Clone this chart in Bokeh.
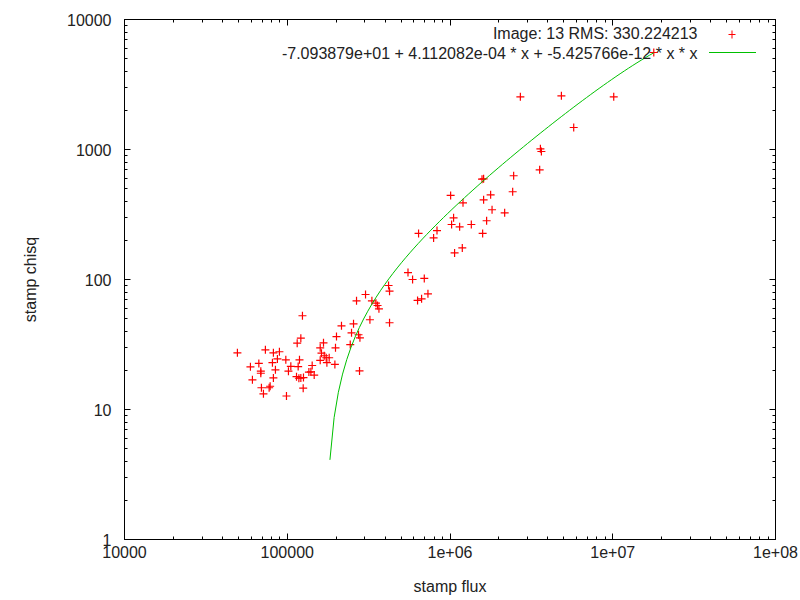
import numpy as np
from bokeh.plotting import figure
from bokeh.models import (LogAxis, FixedTicker, Label, BoxAnnotation, CustomJSTickFormatter)
from bokeh.embed import file_html
from bokeh.resources import INLINE

# ---- data ----
flux = [49400, 124000, 73400, 82200, 89500, 59400, 66900, 68800, 68800, 61100,
        69400, 71400, 77400, 78500, 82200, 84600, 81100, 87000, 98000, 105200,
        101700, 98900, 118900, 116700, 114000, 117900, 121200, 125800, 125300, 115100,
        121200, 142300, 139700, 146400, 135800, 167000, 159400, 162300, 168700, 173500,
        181000, 175200, 159400, 196200, 197900, 200700, 215400, 255400, 248300, 274100,
        279600, 243800, 278000, 322100, 425100, 302700, 266500, 331200, 350700, 358700,
        365900, 419200, 425100, 1573000, 1609000, 2461000, 3556000, 2427000, 1009000, 1202000,
        1609000, 1777000, 1813000, 2167000, 1679000, 1052000, 1023000, 1146000, 1352000, 1587000,
        832000, 641000, 793000, 1190000, 1067000, 552000, 589000, 695000, 732000, 632000,
        669000, 2706000, 4836000, 10140000, 5756000, 3593000, 3644000, 17870000]
chisq = [27.3, 52.6, 28.8, 27.3, 27.8, 21.3, 22.6, 19.7, 19.0, 16.9,
         14.7, 13.2, 14.7, 15.1, 17.5, 20.2, 22.9, 24.5, 24.1, 21.5,
         19.7, 12.7, 24.1, 21.4, 17.9, 17.4, 17.5, 17.6, 14.6, 32.4,
         35.4, 21.8, 19.5, 18.4, 19.4, 32.6, 29.8, 27.1, 25.9, 25.0,
         25.0, 22.9, 23.9, 22.2, 29.8, 36.4, 44.0, 45.6, 38.9, 37.6,
         35.6, 31.6, 19.8, 49.0, 46.5, 76.7, 68.6, 68.6, 65.7, 63.1,
         59.5, 89.9, 81.3, 591, 595, 628, 698, 473, 443, 389,
         410, 448, 344, 326, 283, 298, 265, 254, 265, 226,
         238, 226, 209, 175, 160, 113, 100, 102, 77.6, 69.0,
         71.0, 2543, 2588, 2543, 1476, 1012, 965, 5572]

# fit coefficients shown in the legend
fit_a = -7.093879e+01
fit_b = 4.112082e-04
fit_c = -5.425766e-12
n_samples = 100

x_ticks = [1e4, 1e5, 1e6, 1e7, 1e8]
x_tick_labels = ["10000", "100000", "1e+06", "1e+07", "1e+08"]
y_ticks = [1, 10, 100, 1000, 10000]
y_tick_labels = ["1", "10", "100", "1000", "10000"]

legend_title = "Image: 13 RMS: 330.224213"
legend_fit = "-7.093879e+01 + 4.112082e-04 * x + -5.425766e-12 * x * x"

# ---- fit curve sampled over the data range ----
xs = np.logspace(np.log10(min(flux)), np.log10(max(flux)), n_samples)
ys = fit_a + fit_b * xs + fit_c * xs * xs
keep = ys > 0
xs, ys = xs[keep], ys[keep]

FONT = "Liberation Sans"
FS = "16px"
RED = "#ff0000"
GREEN = "#00c000"
TXT = "#222222"

p = figure(x_axis_type="log", y_axis_type="log",
           x_range=(1e4, 1e8), y_range=(1, 1e4),
           frame_width=651, frame_height=520,
           min_border_left=124, min_border_right=25,
           min_border_top=19, min_border_bottom=61,
           output_backend="svg", toolbar_location=None)
p.background_fill_color = "white"
p.border_fill_color = "white"
p.outline_line_color = "black"
p.xgrid.visible = False
p.ygrid.visible = False

def minor_of(ticks):
    m = []
    for t in ticks[:-1]:
        for k in range(2, 10):
            m.append(t * k)
    return m

def style(ax, ticks, labels, show_labels=True):
    ax.ticker = FixedTicker(ticks=ticks, minor_ticks=minor_of(ticks))
    if show_labels:
        ax.major_label_overrides = {float(t): l for t, l in zip(ticks, labels)}
    else:
        ax.formatter = CustomJSTickFormatter(code="return ''")
    ax.major_tick_in = 6
    ax.major_tick_out = 0
    ax.minor_tick_in = 3
    ax.minor_tick_out = 0
    ax.axis_line_color = "black"
    ax.major_tick_line_color = "black"
    ax.minor_tick_line_color = "black"
    ax.major_label_text_font = FONT
    ax.major_label_text_font_size = FS if show_labels else "0px"
    ax.major_label_text_color = TXT
    ax.axis_label_text_font = FONT
    ax.axis_label_text_font_size = FS
    ax.axis_label_text_font_style = "normal"
    ax.axis_label_text_color = TXT

xa = p.xaxis[0]
ya = p.yaxis[0]
style(xa, x_ticks, x_tick_labels)
style(ya, y_ticks, y_tick_labels)
xa.axis_label = "stamp flux"
ya.axis_label = "stamp chisq"
xa.major_label_standoff = 6
xa.axis_label_standoff = 17
ya.major_label_standoff = 13
ya.axis_label_standoff = 25

top = LogAxis()
style(top, x_ticks, x_tick_labels, show_labels=False)
top.major_label_standoff = 0
p.add_layout(top, "above")
right = LogAxis()
style(right, y_ticks, y_tick_labels, show_labels=False)
right.major_label_standoff = 0
p.add_layout(right, "right")

p.scatter(flux, chisq, marker="cross", size=8, line_color=RED, line_width=1.2)
p.line(xs, ys, line_color=GREEN, line_width=1)

# ---- gnuplot-style key (text then sample), frame-relative screen units ----
p.add_layout(Label(x=573, y=506, x_units="screen", y_units="screen",
                   text=legend_title, text_align="right", text_baseline="middle",
                   text_font=FONT, text_font_size=FS, text_color=TXT))
p.add_layout(Label(x=573, y=486, x_units="screen", y_units="screen",
                   text=legend_fit, text_align="right", text_baseline="middle",
                   text_font=FONT, text_font_size=FS, text_color=TXT))
p.add_layout(BoxAnnotation(left=604, right=611, top=505.5, bottom=504.5,
                           left_units="screen", right_units="screen",
                           top_units="screen", bottom_units="screen",
                           fill_color=RED, fill_alpha=1, line_color=None))
p.add_layout(BoxAnnotation(left=607, right=608, top=509, bottom=501,
                           left_units="screen", right_units="screen",
                           top_units="screen", bottom_units="screen",
                           fill_color=RED, fill_alpha=1, line_color=None))
p.add_layout(BoxAnnotation(left=584.5, right=631.5, top=487.5, bottom=486.5,
                           left_units="screen", right_units="screen",
                           top_units="screen", bottom_units="screen",
                           fill_color=GREEN, fill_alpha=1, line_color=None))

open("out.html", "w").write(file_html(p, INLINE))
